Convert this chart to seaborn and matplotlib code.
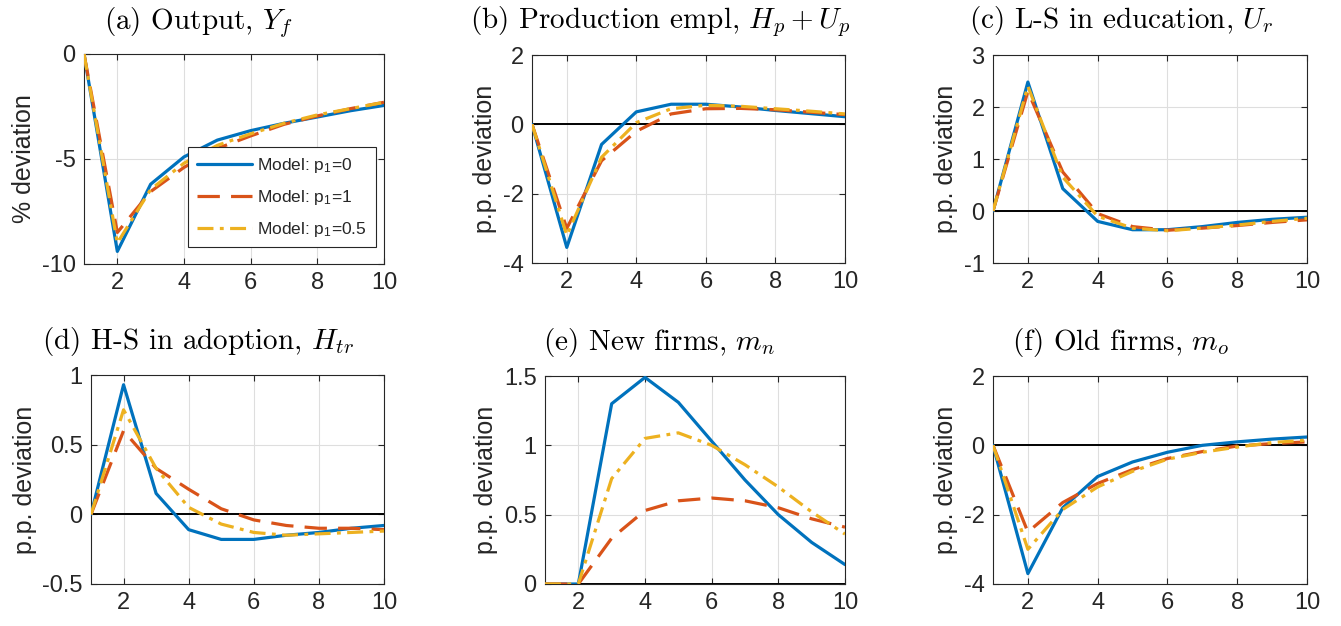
import numpy as np
import pandas as pd
import matplotlib
matplotlib.use("Agg")
import matplotlib.pyplot as plt
import seaborn as sns

periods = list(range(1, 11))

series_labels = [r"Model: $\mathregular{p_1}$=0", r"Model: $\mathregular{p_1}$=1", r"Model: $\mathregular{p_1}$=0.5"]

titles = [
    r"(a) Output, $Y_f$",
    r"(b) Production empl, $H_p + U_p$",
    r"(c) L-S in education, $U_r$",
    r"(d) H-S in adoption, $H_{tr}$",
    r"(e) New firms, $m_n$",
    r"(f) Old firms, $m_o$",
]
ylabels = ["% deviation", "p.p. deviation", "p.p. deviation",
           "p.p. deviation", "p.p. deviation", "p.p. deviation"]

# (a) Output
out_p0 = [0, -9.4, -6.2, -4.9, -4.1, -3.65, -3.3, -3.0, -2.7, -2.45]
out_p1 = [0, -8.5, -6.55, -5.4, -4.5, -3.9, -3.35, -2.95, -2.6, -2.3]
out_p05 = [0, -9.0, -6.45, -5.2, -4.35, -3.8, -3.3, -2.9, -2.6, -2.3]
# (b) Production employment
emp_p0 = [0, -3.55, -0.58, 0.36, 0.58, 0.58, 0.5, 0.4, 0.31, 0.22]
emp_p1 = [0, -3.0, -1.05, -0.2, 0.3, 0.45, 0.46, 0.42, 0.35, 0.28]
emp_p05 = [0, -3.2, -0.95, 0.05, 0.45, 0.55, 0.52, 0.45, 0.38, 0.3]
# (c) L-S in education
edu_p0 = [0, 2.48, 0.43, -0.2, -0.36, -0.36, -0.3, -0.22, -0.16, -0.12]
edu_p1 = [0, 2.3, 0.75, -0.05, -0.3, -0.37, -0.33, -0.28, -0.22, -0.17]
edu_p05 = [0, 2.4, 0.65, -0.1, -0.33, -0.38, -0.33, -0.27, -0.2, -0.14]
# (d) H-S in adoption
ado_p0 = [0, 0.93, 0.15, -0.11, -0.18, -0.18, -0.15, -0.13, -0.1, -0.08]
ado_p1 = [0, 0.6, 0.33, 0.18, 0.04, -0.04, -0.08, -0.1, -0.1, -0.11]
ado_p05 = [0, 0.75, 0.33, 0.05, -0.07, -0.13, -0.15, -0.14, -0.13, -0.12]
# (e) New firms
new_p0 = [0, 0, 1.3, 1.49, 1.31, 1.03, 0.75, 0.5, 0.3, 0.14]
new_p1 = [0, 0, 0.33, 0.53, 0.6, 0.62, 0.6, 0.55, 0.47, 0.41]
new_p05 = [0, 0, 0.76, 1.05, 1.09, 1.0, 0.86, 0.7, 0.52, 0.36]
# (f) Old firms
old_p0 = [0, -3.7, -1.8, -0.9, -0.48, -0.2, 0.0, 0.1, 0.18, 0.24]
old_p1 = [0, -2.5, -1.65, -1.1, -0.7, -0.38, -0.18, -0.02, 0.05, 0.1]
old_p05 = [0, -3.0, -1.85, -1.2, -0.75, -0.4, -0.2, -0.05, 0.08, 0.15]

panels = [
    (out_p0, out_p1, out_p05),
    (emp_p0, emp_p1, emp_p05),
    (edu_p0, edu_p1, edu_p05),
    (ado_p0, ado_p1, ado_p05),
    (new_p0, new_p1, new_p05),
    (old_p0, old_p1, old_p05),
]
ylims = [(-10, 0), (-4, 2), (-1, 3), (-0.5, 1), (0, 1.5), (-4, 2)]
yticks = [[-10, -5, 0], [-4, -2, 0, 2], [-1, 0, 1, 2, 3],
          [-0.5, 0, 0.5, 1], [0, 0.5, 1, 1.5], [-4, -2, 0, 2]]

sns.set_theme(style="white")
plt.rcParams["font.family"] = ["Liberation Sans", "DejaVu Sans"]
plt.rcParams["mathtext.fontset"] = "cm"
plt.rcParams["axes.unicode_minus"] = False

colors = ["#0072BD", "#D95319", "#EDB120"]
styles = ["-", (0, (7, 3.5)), (0, (5, 2, 1.2, 2))]

W, H = 1341, 626
fig = plt.figure(figsize=(W / 100, H / 100), dpi=100)

# pixel boxes: left, right, top, bottom
boxes = [
    (84, 384, 54, 264),
    (532, 845, 55, 263),
    (993, 1307, 55, 263),
    (91, 384, 375, 584),
    (545, 845, 376, 584),
    (993, 1307, 376, 584),
]
# caption anchors (center x, baseline y) in pixels
caps = [(198, 29), (660, 28), (1121, 28), (198, 349), (659, 350), (1121, 350)]

def tick_fmt(v):
    if float(v).is_integer():
        return str(int(v))
    return ("%g" % v)

axes = []
for i, (l, r, t, b) in enumerate(boxes):
    ax = fig.add_axes([l / W, 1 - b / H, (r - l) / W, (b - t) / H])
    axes.append(ax)
    ax.grid(True, color="#dedede", linewidth=0.8)
    ax.set_axisbelow(True)
    ax.axhline(0, color="black", linewidth=1.4, zorder=2)
    for j in range(3):
        df = pd.DataFrame({"period": periods, "value": panels[i][j]})
        sns.lineplot(data=df, x="period", y="value", ax=ax, color=colors[j],
                     linewidth=2.3, linestyle=styles[j], label=series_labels[j],
                     legend=False, zorder=3 + j)
    ax.set_xlim(1, 10)
    ax.set_ylim(*ylims[i])
    ax.set_xticks([2, 4, 6, 8, 10])
    ax.set_yticks(yticks[i])
    ax.set_yticklabels([tick_fmt(v) for v in yticks[i]])
    ax.tick_params(direction="in", length=4, width=0.8, labelsize=17,
                   colors="#262626", labelcolor="#262626", pad=6,
                   top=True, right=True, left=True, bottom=True)
    for sp in ax.spines.values():
        sp.set_color("#262626")
        sp.set_linewidth(0.8)
    ax.set_xlabel("")
    ax.set_ylabel(ylabels[i], fontsize=18, color="#262626", labelpad=4)
    cx, cy = caps[i]
    fig.text(cx / W, 1 - cy / H, titles[i], fontsize=21, family="cmr10",
             ha="center", va="baseline", color="black")

leg = axes[0].legend(loc="upper left", bbox_to_anchor=(188 / W, 1 - 147 / H),
                     bbox_transform=fig.transFigure, fontsize=12.5,
                     handlelength=3.2, frameon=True, fancybox=False,
                     edgecolor="#262626", framealpha=1, borderaxespad=0,
                     labelspacing=0.75, borderpad=0.5, handletextpad=0.3)
leg.get_frame().set_linewidth(0.8)

fig.savefig("out.png", dpi=100)
